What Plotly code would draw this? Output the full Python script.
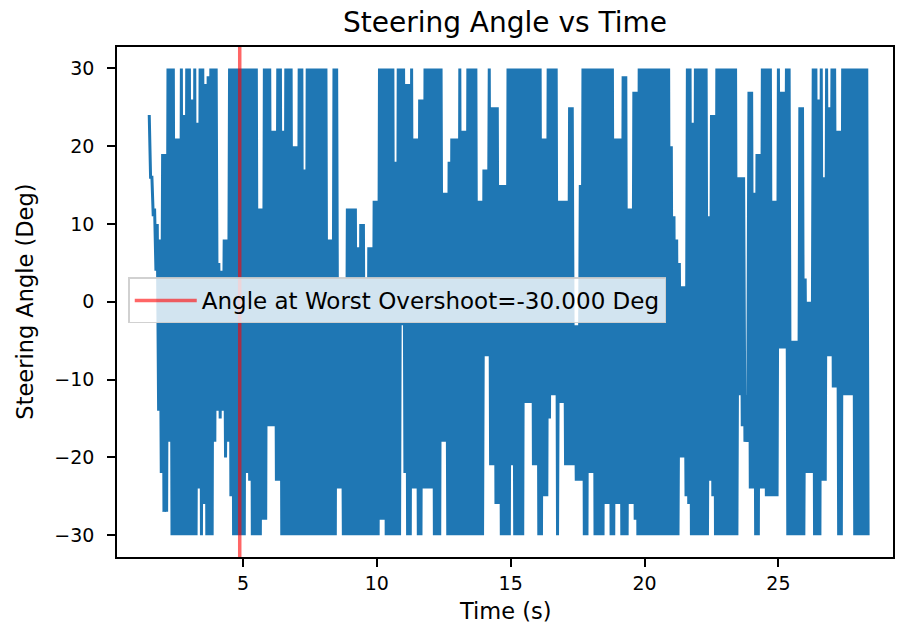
import numpy as np
import plotly.graph_objects as go

# ---- data (envelope of the steering signal in 0.1 s bins) ----
T0 = 1.5          # first sample time (s)
DT = 0.1          # bin width (s)

ANGLE_HIGH = [
    24, 16, 12, 10, 8, 19, 19, 30, 30, 30,
    21, 21, 30, 24, 30, 30, 26, 30, 23, 30,
    30, 28, 29, 30, 30, 30, 5, 4, 8, 8,
    30, 30, 30, 30, 30, 30, 30, 30, 30, 30,
    30, 12, 12, 30, 30, 30, 22, 22, 30, 30,
    22, 30, 30, 30, 20, 20, 30, 30, 17, 30,
    30, 30, 30, 30, 30, 30, 30, 8, 8, 30,
    30, 3, 3, 3, 12, 12, 12, 12, 7, 10,
    10, 3, 7, 7, 13, 13, 30, 30, 30, 30,
    30, 30, 18, 30, 30, 30, 28, 28, 30, 21,
    21, 26, 26, 30, 30, 30, 30, 30, 30, 30,
    14, 14, 18, 21, 21, 21, 30, 22, 22, 30,
    30, 30, 30, 13, 13, 17, 17, 30, 25, 25,
    25, 15, 15, 15, 30, 30, 30, 30, 30, 30,
    30, 30, 30, 30, 30, 30, 30, 21, 21, 30,
    30, 30, 30, 13, 13, 13, 13, 25, 25, -3,
    -3, 15, 30, 30, 30, 30, 30, 30, 30, 30,
    30, 30, 30, 30, 21, 21, 21, 29, 29, 12,
    12, 27, 27, 30, 30, 30, 30, 30, 30, 30,
    30, 30, 30, 30, 30, 20, 11, 8, 5, 2,
    2, 30, 30, 23, 30, 30, 30, 30, 30, 11,
    24, 24, 30, 30, 30, 30, 30, 30, 30, 30,
    16, 16, 16, -12, 27, 27, 14, 19, 19, 30,
    30, 30, 30, 13, 13, 30, 27, 27, 30, 30,
    -5, -5, -5, 25, 25, 3, 0, 0, 30, 30,
    26, 30, 16, 30, 25, 30, 30, 22, 22, 30,
    30, 30, 30, 30, 30, 30, 30, 30, 30,
]

ANGLE_LOW = [
    16, 11, 4, -14, -22, -27, -27, -18, -30, -30,
    -30, -30, -30, -30, -30, -30, -30, -30, -24, -30,
    -26, -30, -30, -30, -18, -14, -15, -14, -20, -18,
    -25, -30, -30, -30, -30, -30, -22, -23, -30, -30,
    -30, -30, -28, -28, -16, -16, -16, -23, -23, -30,
    -30, -30, -30, -30, -30, -30, -30, -30, -30, -30,
    -30, -30, -30, -30, -30, -30, -30, -30, -30, -30,
    -24, -24, -30, -30, -30, -30, -30, -30, -30, -30,
    -30, -30, -30, -30, -30, -30, -28, -28, -30, -30,
    -30, -30, -30, -30, -3, -22, -30, -30, -24, -24,
    -30, -30, -24, -24, -24, -24, -30, -30, -30, -18,
    -18, -30, -30, -30, -30, -30, -30, -30, -30, -30,
    -30, -30, -30, -30, -30, -7, -7, -21, -21, -26,
    -26, -30, -30, -30, -30, -21, -30, -30, -30, -30,
    -13, -13, -13, -21, -21, -30, -30, -25, -25, -15,
    -12, -12, -30, -13, -13, -21, -21, -21, -21, -23,
    -23, -23, -30, -30, -22, -22, -30, -30, -30, -30,
    -26, -26, -30, -30, -26, -26, -30, -30, -30, -26,
    -26, -28, -30, -30, -30, -30, -30, -30, -30, -30,
    -30, -30, -30, -30, -30, -30, -30, -30, -20, -20,
    -25, -26, -30, -30, -30, -30, -30, -30, -30, -23,
    -25, -30, -30, -30, -30, -30, -30, -30, -30, -30,
    -12, -16, -18, -18, -24, -24, -30, -30, -24, -24,
    -25, -25, -25, -25, -25, -6, -6, -6, -30, -30,
    -30, -30, -30, -30, -30, -22, -22, -22, -30, -30,
    -30, -23, -23, -7, -7, -11, -11, -30, -30, -12,
    -12, -12, -12, -30, -30, -30, -30, -30, -30,
]

WORST_T = 4.88            # time of worst overshoot (s)
WORST_ANGLE = -30.000     # steering angle at worst overshoot (deg)

X_TICKS = [5, 10, 15, 20, 25]
Y_TICKS = [-30, -20, -10, 0, 10, 20, 30]

# ---- build the zig-zag series (sample alternates between high and low reading) ----
n = len(ANGLE_HIGH)
t_bins = T0 + DT * np.arange(n)
times = np.empty(2 * n)
angles = np.empty(2 * n)
times[0::2] = t_bins
times[1::2] = t_bins + DT / 2
angles[0::2] = ANGLE_HIGH
angles[1::2] = ANGLE_LOW

FONT = "DejaVu Sans, Verdana, sans-serif"

fig = go.Figure()
fig.add_trace(go.Scatter(
    x=times, y=angles, mode="lines",
    line=dict(color="#1f77b4", width=3, simplify=False),
    showlegend=False, hoverinfo="skip",
))
fig.add_trace(go.Scatter(
    x=[WORST_T, WORST_T], y=[-100, 100], mode="lines",
    line=dict(color="rgba(255,0,0,0.6)", width=3.5),
    name=f"Angle at Worst Overshoot={WORST_ANGLE:.3f} Deg",
    hoverinfo="skip",
))

fig.update_layout(
    width=902, height=630,
    margin=dict(l=117, r=7, t=47, b=73),
    paper_bgcolor="white", plot_bgcolor="white",
    font=dict(family=FONT, color="black"),
    title=dict(text="Steering Angle vs Time", x=0.5, xref="paper", xanchor="center",
               y=1 - 22 / 630, yref="container", yanchor="middle",
               font=dict(size=28, family=FONT, color="black")),
    showlegend=True,
    legend=dict(x=0.0145, y=0.503, xanchor="left", yanchor="middle",
                itemwidth=62,
                bgcolor="rgba(255,255,255,0.8)", bordercolor="rgba(204,204,204,0.9)",
                borderwidth=1.5, font=dict(size=23, family=FONT, color="black")),
    annotations=[
        dict(text="Time (s)", x=0.5, y=-0.1065, xref="paper", yref="paper",
             xanchor="center", yanchor="middle", showarrow=False,
             font=dict(size=22.5, family=FONT, color="black")),
        dict(text="Steering Angle (Deg)", x=-0.119, y=0.5, xref="paper", yref="paper",
             xanchor="center", yanchor="middle", showarrow=False, textangle=-90,
             font=dict(size=22.5, family=FONT, color="black")),
    ],
)
fig.update_xaxes(range=[0.296, 29.28], tickvals=X_TICKS, ticks="outside", ticklen=8,
                 tickwidth=1.6, tickcolor="black", showgrid=False, zeroline=False,
                 showline=True, mirror=True, linecolor="black", linewidth=1.6,
                 tickfont=dict(size=19, family=FONT, color="black"))
fig.update_yaxes(range=[-32.8, 32.75], tickvals=Y_TICKS, ticks="outside", ticklen=8,
                 tickwidth=1.6, tickcolor="black", showgrid=False, zeroline=False,
                 showline=True, mirror=True, linecolor="black", linewidth=1.6,
                 ticklabelstandoff=9,
                 tickfont=dict(size=19, family=FONT, color="black"))

fig.write_html("out.html", config={"displayModeBar": False},
               post_script="document.body.style.margin='0';")
